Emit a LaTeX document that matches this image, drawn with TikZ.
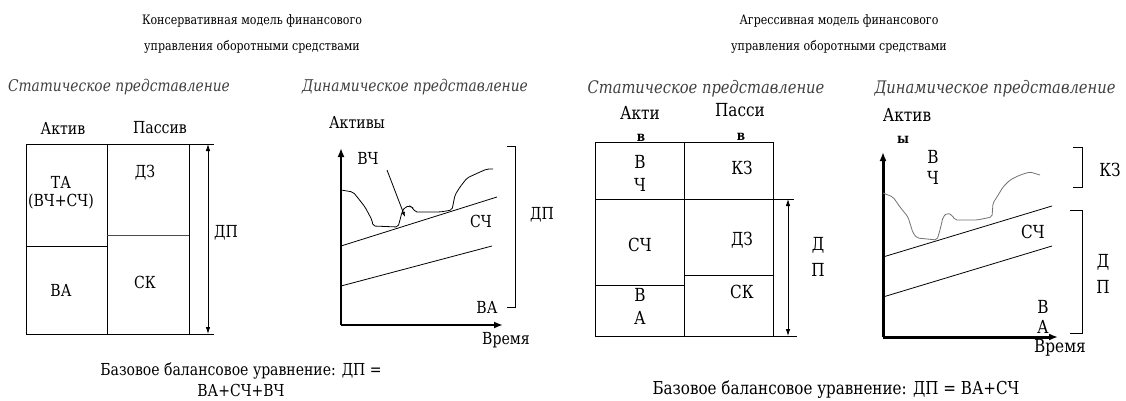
\documentclass[tikz,border=0pt]{standalone}
\usepackage{fontspec}
\setmainfont{DejaVu Serif}
\newfontfamily\rusf[FakeStretch=0.85]{DejaVu Serif}
\usetikzlibrary{arrows.meta}
\tikzset{
  ttl/.style={inner sep=0pt, align=center, font=\rusf\fontsize{13}{26}\selectfont},
  hdr/.style={inner sep=0pt, font=\rusf\fontsize{16.2}{18}\selectfont\itshape, text=black!75},
  lbl/.style={inner sep=0pt, font=\rusf\fontsize{16.6}{20}\selectfont},
  rlbl/.style={inner sep=0pt, font=\rusf\fontsize{18}{21}\selectfont},
  smallb/.style={inner sep=0pt, font=\rusf\fontsize{14}{17}\selectfont\bfseries},
  eq/.style={inner sep=0pt, align=center, font=\rusf\fontsize{16.5}{21}\selectfont},
  thin line/.style={line width=0.8pt},
  axis/.style={line width=2pt, -{Latex[length=9pt,width=7pt]}},
  dim/.style={line width=0.8pt, {Latex[length=7pt,width=4.5pt]}-{Latex[length=7pt,width=4.5pt]}},
  wavy/.style={line width=0.8pt, rounded corners=2pt},
}
\begin{document}
\begin{tikzpicture}[x=1pt,y=-1pt]
\useasboundingbox (0,0) rectangle (1126,401);
\fill[white] (0,0) rectangle (1126,401);

% ---------- titles ----------
\node[ttl] (t1) at (252,34) {Консервативная модель финансового\\управления оборотными средствами};
\node[ttl] (t2) at (839,34) {Агрессивная модель финансового\\управления оборотными средствами};

% ---------- left static ----------
\node[hdr] (h1) at (119,87) {Статическое представление};
\coordinate (L1tl) at (26,144);
\coordinate (L1br) at (189,334);
\draw[thin line] (L1tl) rectangle (L1br);
\coordinate (L1mt) at (107,144);
\coordinate (L1mb) at (107,334);
\draw[thin line] (L1mt) -- (L1mb);
\coordinate (L1a) at (26,246);
\coordinate (L1b) at (107,246);
\draw[thin line] (L1a) -- (L1b);
\coordinate (L1c) at (107,235);
\coordinate (L1d) at (189,235);
\draw[thin line, black!70] (L1c) -- (L1d);
\coordinate (L1e) at (214,144);
\coordinate (L1f) at (214,334);
\coordinate (L1g) at (189,144);
\coordinate (L1h) at (189,334);
\draw[thin line] (L1g) -- (L1e);
\draw[thin line] (L1h) -- (L1f);
\coordinate (L1up) at (208,144);
\coordinate (L1dn) at (208,334);
\draw[dim] (L1up) -- (L1dn);
\node[lbl] (aktiv1) at (63,128) {Актив};
\node[lbl] (passiv1) at (160,128) {Пассив};
\node[lbl, align=center, font=\rusf\fontsize{16.6}{18}\selectfont] (ta1) at (61,193) {ТА\\(ВЧ+СЧ)};
\node[lbl] (dz1) at (145,173) {ДЗ};
\node[lbl] (va1) at (61,290) {ВА};
\node[lbl] (sk1) at (145,282) {СК};
\node[lbl] (dp1) at (226,233) {ДП};

% ---------- left dynamic ----------
\node[hdr] (h2) at (415,87) {Динамическое представление};
\node[lbl] (aktivy2) at (357,122) {Активы};
\coordinate (O2) at (341,325);
\coordinate (Y2) at (341,148);
\coordinate (X2) at (503,325);
\draw[axis] (O2) -- (Y2);
\draw[axis] (O2) -- (X2);
\coordinate (l2a) at (341,286);
\coordinate (l2b) at (492,246);
\coordinate (u2a) at (341,246);
\coordinate (u2b) at (497,197);
\draw[thin line] (l2a) -- (l2b);
\draw[thin line] (u2a) -- (u2b);
\draw[wavy] (341,190) -- (353,192) -- (358,198) -- (365,207) -- (372,220) -- (373,226) -- (398,227) -- (400,220) -- (402,212) -- (405,207) -- (410,206) -- (413,208) -- (415,212) -- (440,212) -- (452,210) -- (453,205) -- (455,195) -- (460,187) -- (467,178) -- (480,172) -- (487,169) -- (493,169);
\node[lbl] (vch2) at (368,158) {ВЧ};
\coordinate (vchs) at (387,170);
\coordinate (vche) at (405,217);
\draw[thin line, -{Latex[length=5pt,width=3.5pt]}] (vchs) -- (vche);
\node[lbl] (sch2) at (481,221) {СЧ};
\node[lbl] (va2) at (487,307) {ВА};
\node[lbl] (time2) at (506,340) {Время};
\coordinate (b2a) at (507,146);
\coordinate (b2b) at (515,146);
\coordinate (b2c) at (515,307);
\coordinate (b2d) at (507,307);
\draw[thin line] (b2a) -- (b2b) -- (b2c) -- (b2d);
\node[lbl] (dp2) at (542,215) {ДП};

\node[eq] (eq1) at (241,380) {Базовое балансовое уравнение: ДП =\\ВА+СЧ+ВЧ};

% ---------- right static ----------
\node[hdr, font=\rusf\fontsize{17.3}{18}\selectfont\itshape] (h3) at (706,89) {Статическое представление};
\draw[thin line] (595,142) rectangle (773,336);
\coordinate (R1mt) at (684,142);
\coordinate (R1mb) at (684,336);
\draw[thin line] (R1mt) -- (R1mb);
\coordinate (R1a) at (595,199);
\coordinate (R1b) at (794,199);
\draw[thin line] (R1a) -- (R1b);
\coordinate (R1c) at (595,285);
\coordinate (R1d) at (684,285);
\draw[thin line] (R1c) -- (R1d);
\coordinate (R1e) at (684,275);
\coordinate (R1f) at (773,275);
\draw[thin line] (R1e) -- (R1f);
\coordinate (R1g) at (773,336);
\coordinate (R1h) at (797,336);
\draw[thin line] (R1g) -- (R1h);
\coordinate (R1up) at (788,199);
\coordinate (R1dn) at (788,336);
\draw[dim] (R1up) -- (R1dn);
\node[rlbl] (akti3) at (640,113) {Акти};
\node[smallb] (v3a) at (641,138) {в};
\node[rlbl] (passi3) at (740,110) {Пасси};
\node[smallb] (v3b) at (741,137) {в};
\node[rlbl] (v3c) at (640,162) {В};
\node[rlbl] (ch3) at (640,185) {Ч};
\node[rlbl] (kz3) at (742,168) {КЗ};
\node[rlbl] (sch3) at (640,245) {СЧ};
\node[rlbl] (dz3) at (742,240) {ДЗ};
\node[rlbl] (v3d) at (640,295) {В};
\node[rlbl] (a3) at (640,318) {А};
\node[rlbl] (sk3) at (742,292) {СК};
\node[rlbl] (d3) at (818,245) {Д};
\node[rlbl] (p3) at (818,270) {П};

% ---------- right dynamic ----------
\node[hdr, font=\rusf\fontsize{17.3}{18}\selectfont\itshape] (h4) at (995,89) {Динамическое представление};
\node[rlbl] (aktiv4) at (907,115) {Актив};
\node[smallb] (y4) at (903,140) {ы};
\coordinate (O4) at (883,337);
\coordinate (Y4) at (883,152);
\coordinate (X4) at (1058,337);
\draw[axis, line width=3pt] (O4) -- (Y4);
\draw[axis, line width=3pt] (O4) -- (X4);
\coordinate (l4a) at (883,297);
\coordinate (l4b) at (1052,246);
\coordinate (u4a) at (883,257);
\coordinate (u4b) at (1052,206);
\draw[thin line] (l4a) -- (l4b);
\draw[thin line] (u4a) -- (u4b);
\draw[wavy, black!55] (883,193) -- (893,197) -- (900,207) -- (908,217) -- (913,233) -- (917,238) -- (937,240) -- (940,230) -- (943,217) -- (947,213) -- (952,215) -- (955,220) -- (977,220) -- (992,217) -- (993,203) -- (997,197) -- (1003,187) -- (1010,180) -- (1020,175) -- (1030,172) -- (1040,175);
\node[rlbl] (v4) at (933,157) {В};
\node[rlbl] (ch4) at (933,178) {Ч};
\coordinate (k4a) at (1073,147);
\coordinate (k4b) at (1082,147);
\coordinate (k4c) at (1082,187);
\coordinate (k4d) at (1073,187);
\draw[thin line] (k4a) -- (k4b) -- (k4c) -- (k4d);
\node[rlbl] (kz4) at (1110,170) {КЗ};
\coordinate (d4a) at (1070,210);
\coordinate (d4b) at (1082,210);
\coordinate (d4c) at (1082,333);
\coordinate (d4d) at (1070,333);
\draw[thin line] (d4a) -- (d4b) -- (d4c) -- (d4d);
\node[rlbl] (sch4) at (1033,232) {СЧ};
\node[rlbl] (d4) at (1103,262) {Д};
\node[rlbl] (p4) at (1103,287) {П};
\node[rlbl] (v4b) at (1043,307) {В};
\node[rlbl] (a4) at (1043,327) {А};
\node[rlbl] (time4) at (1060,348) {Время};

\node[eq, font=\rusf\fontsize{17.8}{21}\selectfont] (eq2) at (836,390) {Базовое балансовое уравнение: ДП = ВА+СЧ};
\end{tikzpicture}
\end{document}
